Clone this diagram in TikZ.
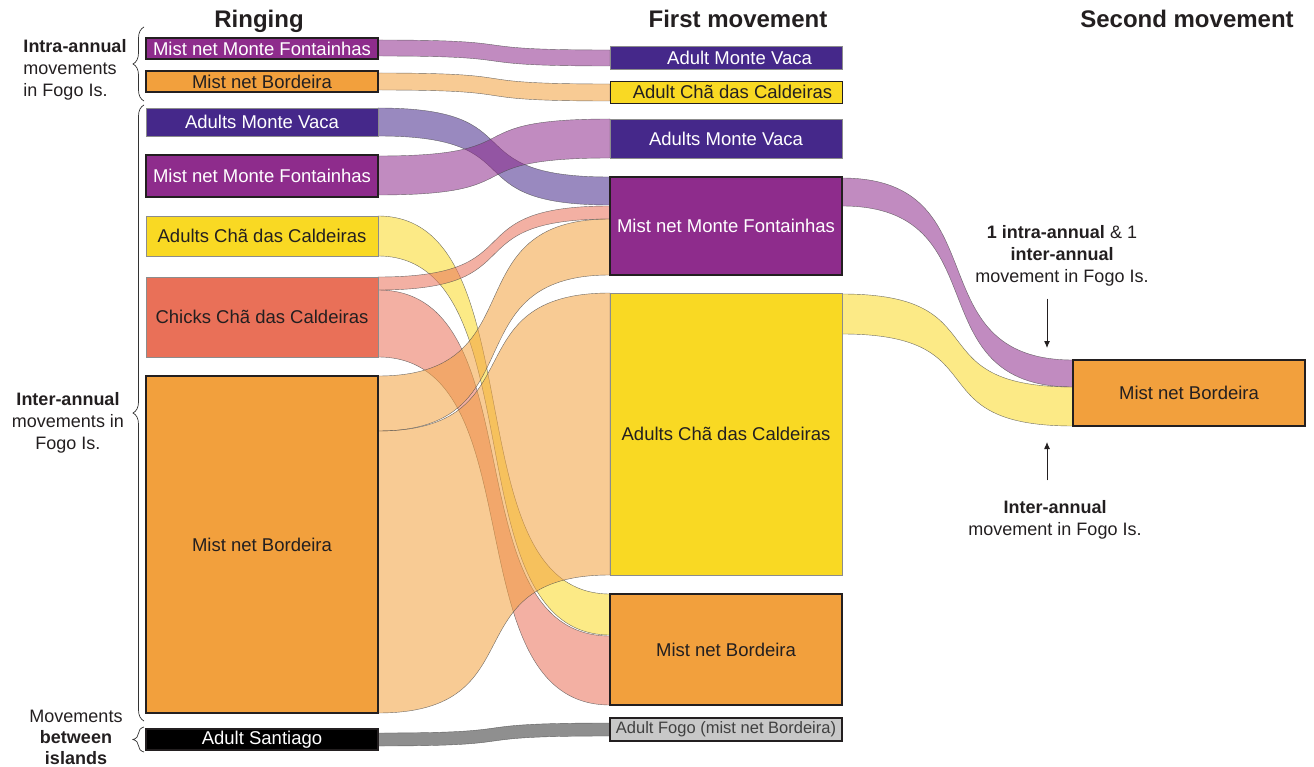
\documentclass[tikz,border=0pt]{standalone}
\usepackage{fontspec}
\setmainfont{Liberation Sans}
\usetikzlibrary{calc,arrows.meta,backgrounds,decorations.pathreplacing}

\definecolor{fontainhas}{HTML}{8E2C8C}
\definecolor{vaca}{HTML}{45288A}
\definecolor{bordeira}{HTML}{F2A03D}
\definecolor{caldeiras}{HTML}{F9D923}
\definecolor{chicks}{HTML}{E97058}
\definecolor{fogogrey}{HTML}{C8C8C8}
\definecolor{ink}{HTML}{231F20}

\newcommand{\flow}[5]{%
    \filldraw[band, fill=#1] (#2) .. controls +(160,0) and +(-160,0) .. (#4)
        -- (#5) .. controls +(-160,0) and +(160,0) .. (#3) -- cycle;
}

\begin{document}
\begin{tikzpicture}[x=1pt, y=-1pt,
    box/.style={draw=black!45, line width=0.8pt, anchor=north west, inner sep=0pt, outer sep=0pt,
        minimum width=232pt, font=\fontsize{18.5}{22}\selectfont, text=ink},
    heavy/.style={draw=ink, line width=2.8pt},
    note/.style={font=\fontsize{18}{22}\selectfont, text=ink, inner sep=0pt},
    head/.style={font=\fontsize{24}{28}\selectfont\bfseries, text=ink, anchor=base},
    band/.style={fill opacity=0.55, draw=black!70, draw opacity=0.8, line width=0.4pt},
    brace/.style={decorate, decoration={brace, amplitude=11pt}, draw=black!80, line width=0.7pt},
    pointer/.style={-{Latex[length=7pt,width=6pt]}, draw=ink, line width=0.9pt}]

    \useasboundingbox (0,0) rectangle (1314,767);

    \node[head] (ringing) at (259,28) {Ringing};
    \node[head] (first) at (738,28) {First movement};
    \node[head] (second) at (1187,28) {Second movement};

    \node[box, heavy, fill=fontainhas, text=white, minimum height=21pt] (L1) at (146,38) {Mist net Monte Fontainhas};
    \node[box, heavy, fill=bordeira, minimum height=21pt] (L2) at (146,71) {Mist net Bordeira};
    \node[box, fill=vaca, text=white, minimum height=28pt] (L3) at (146,108) {Adults Monte Vaca};
    \node[box, heavy, fill=fontainhas, text=white, minimum height=42pt] (L4) at (146,155) {Mist net Monte Fontainhas};
    \node[box, fill=caldeiras, minimum height=40pt] (L5) at (146,216) {Adults Chã das Caldeiras};
    \node[box, fill=chicks, minimum height=80pt] (L6) at (146,277) {Chicks Chã das Caldeiras};
    \node[box, heavy, fill=bordeira, minimum height=337pt] (L7) at (146,376) {Mist net Bordeira};
    \node[box, heavy, fill=black, text=white, minimum height=21pt] (L8) at (146,729) {Adult Santiago};

    \node[box, fill=vaca, text=white, minimum height=23pt] (M1) at (610,46) {\hspace*{27pt}Adult Monte Vaca};
    \node[box, draw=ink, fill=caldeiras, minimum height=22pt] (M2) at (610,81) {\hspace*{13pt}Adult Chã das Caldeiras};
    \node[box, fill=vaca, text=white, minimum height=39pt] (M3) at (610,119) {Adults Monte Vaca};
    \node[box, heavy, fill=fontainhas, text=white, minimum height=98pt] (M4) at (610,177) {Mist net Monte Fontainhas};
    \node[box, fill=caldeiras, minimum height=282pt] (M5) at (610,293) {Adults Chã das Caldeiras};
    \node[box, heavy, fill=bordeira, minimum height=111pt] (M6) at (610,594) {Mist net Bordeira};
    \node[box, draw=ink, line width=1.6pt, fill=fogogrey, text=black!75, minimum height=23pt,
        font=\fontsize{16.5}{20}\selectfont] (M7) at (610,718) {Adult Fogo (mist net Bordeira)};

    \node[box, heavy, fill=bordeira, minimum height=66pt] (R) at (1073,360) {Mist net Bordeira};

    \begin{scope}[on background layer]
        \flow{fontainhas}{$(L1.north east)+(0,2)$}{$(L1.north east)+(0,18)$}{$(M1.north west)+(0,4)$}{$(M1.north west)+(0,20)$}
        \flow{bordeira}{$(L2.north east)+(0,2)$}{$(L2.north east)+(0,19)$}{$(M2.north west)+(0,3)$}{$(M2.north west)+(0,20)$}
        \flow{vaca}{$(L3.north east)$}{$(L3.north east)+(0,28)$}{$(M4.north west)$}{$(M4.north west)+(0,28)$}
        \flow{fontainhas}{$(L4.north east)+(0,1)$}{$(L4.north east)+(0,40)$}{$(M3.north west)$}{$(M3.north west)+(0,39)$}
        \flow{caldeiras}{$(L5.north east)$}{$(L5.north east)+(0,40)$}{$(M6.north west)$}{$(M6.north west)+(0,41)$}
        \flow{chicks}{$(L6.north east)$}{$(L6.north east)+(0,13)$}{$(M4.north west)+(0,29)$}{$(M4.north west)+(0,42)$}
        \flow{chicks}{$(L6.north east)+(0,13)$}{$(L6.north east)+(0,80)$}{$(M6.north west)+(0,42)$}{$(M6.north west)+(0,111)$}
        \flow{bordeira}{$(L7.north east)$}{$(L7.north east)+(0,55)$}{$(M4.north west)+(0,42)$}{$(M4.north west)+(0,98)$}
        \flow{bordeira}{$(L7.north east)+(0,55)$}{$(L7.north east)+(0,337)$}{$(M5.north west)$}{$(M5.north west)+(0,282)$}
        \flow{black!80}{$(L8.north east)+(0,4)$}{$(L8.north east)+(0,17)$}{$(M7.north west)+(0,5)$}{$(M7.north west)+(0,18)$}
        \flow{fontainhas}{$(M4.north east)+(0,1)$}{$(M4.north east)+(0,29)$}{$(R.north west)$}{$(R.north west)+(0,27)$}
        \flow{caldeiras}{$(M5.north east)+(0,1)$}{$(M5.north east)+(0,41)$}{$(R.north west)+(0,27)$}{$(R.north west)+(0,66)$}
    \end{scope}

    \draw[brace] (144,101) -- (144,27);
    \draw[brace] (144,721) -- (144,105);
    \draw[brace] (144,752) -- (144,727);

    \node[note, align=left] (intra) at (75,70) {\textbf{Intra-annual}\\movements\\in Fogo Is.};
    \node[note, align=center] (inter) at (68,423) {\textbf{Inter-annual}\\movements in\\Fogo Is.};
    \node[note, align=center, font=\fontsize{18}{21}\selectfont] (islands) at (76,737) {Movements\\\textbf{between}\\\textbf{islands}};

    \node[note, align=center] (twoMoves) at (1062,256) {\textbf{1 intra-annual} \& 1\\\textbf{inter-annual}\\movement in Fogo Is.};
    \node[note, align=center] (oneMove) at (1055,520) {\textbf{Inter-annual}\\movement in Fogo Is.};

    \coordinate (tipTwo) at ($(R.north west)+(-26,-12)$);
    \coordinate (tipOne) at ($(R.south west)+(-26,16)$);
    \draw[pointer] ($(tipTwo |- twoMoves.south)+(0,12)$) -- (tipTwo);
    \draw[pointer] ($(tipOne |- oneMove.north)+(0,-20)$) -- (tipOne);
\end{tikzpicture}
\end{document}
